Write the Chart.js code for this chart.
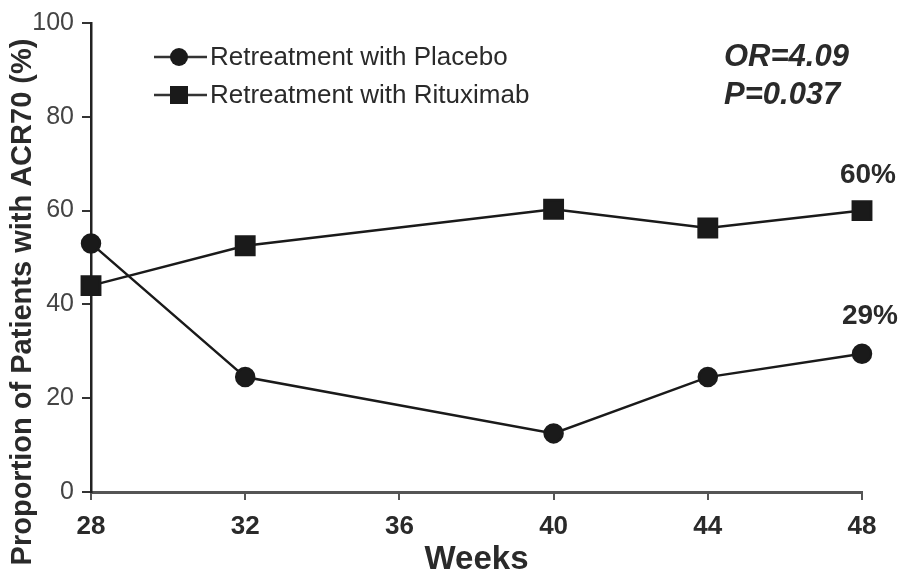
<!DOCTYPE html>
<html>
<head>
<meta charset="utf-8">
<script src="https://cdn.jsdelivr.net/npm/chart.js@4.4.1/dist/chart.umd.min.js"></script>
<style>
  body { margin: 0; background: #fff; }
  #wrap { width: 903px; height: 576px; }
</style>
</head>
<body>
<div id="wrap"><canvas id="myChart" width="903" height="576"></canvas></div>
<script>
// data
var weeks = [28, 32, 40, 44, 48];
var placebo = [53, 24.5, 12.5, 24.5, 29.5];
var rituximab = [44, 52.5, 60.3, 56.3, 60];
var xTicks = [28, 32, 36, 40, 44, 48];
var yTicks = [0, 20, 40, 60, 80, 100];
var seriesNames = ['Retreatment with Placebo', 'Retreatment with Rituximab'];
var endLabels = ['29%', '60%'];
var statsText = ['OR=4.09', 'P=0.037'];
var yTitle = 'Proportion of Patients with ACR70 (%)';

var FONT = '"Liberation Sans", Arial, sans-serif';
var ink = '#1a1a1a';
var textInk = '#2a2a2a';

function toPoints(ys) {
  return weeks.map(function(w, i) { return {x: w, y: ys[i]}; });
}

// legend, end labels, stats text and the y title
var extras = {
  id: 'extras',
  afterDraw: function(chart) {
    var c = chart.ctx;
    var xs = chart.scales.x, ys = chart.scales.y;
    c.save();
    // legend
    var rows = [57, 95];
    var styles = ['circle', 'rect'];
    for (var i = 0; i < 2; i++) {
      var y = rows[i];
      c.strokeStyle = '#333';
      c.lineWidth = 2.5;
      c.beginPath(); c.moveTo(154, y); c.lineTo(207, y); c.stroke();
      c.fillStyle = ink;
      if (styles[i] == 'circle') {
        c.beginPath(); c.arc(179, y, 9, 0, Math.PI * 2); c.fill();
      } else {
        c.fillRect(170, y - 9, 18, 18);
      }
      c.fillStyle = textInk;
      c.font = '26px ' + FONT;
      c.textAlign = 'left';
      c.textBaseline = 'middle';
      c.fillText(seriesNames[i], 210, y + 1);
    }
    // stats
    c.font = 'italic bold 31px ' + FONT;
    c.fillStyle = textInk;
    c.textBaseline = 'alphabetic';
    c.fillText(statsText[0], 724, 66);
    c.fillText(statsText[1], 724, 104);
    // end labels
    c.font = 'bold 28px ' + FONT;
    c.textAlign = 'center';
    var last = weeks.length - 1;
    var px = xs.getPixelForValue(weeks[last]);
    c.fillText(endLabels[0], px + 8, ys.getPixelForValue(placebo[last]) - 30);
    c.fillText(endLabels[1], px + 6, ys.getPixelForValue(rituximab[last]) - 28);
    // y title
    c.translate(31, 302);
    c.rotate(-Math.PI / 2);
    c.font = 'bold 29px ' + FONT;
    c.textAlign = 'center';
    c.textBaseline = 'alphabetic';
    c.fillText(yTitle, 0, 0);
    c.restore();
  }
};

var myChart = new Chart(document.getElementById('myChart').getContext('2d'), {
  type: 'line',
  data: {
    datasets: [
      {
        label: seriesNames[0],
        data: toPoints(placebo),
        borderColor: ink,
        backgroundColor: ink,
        borderWidth: 2.5,
        pointStyle: 'circle',
        pointRadius: 9,
        pointHoverRadius: 9,
        tension: 0,
        clip: false
      },
      {
        label: seriesNames[1],
        data: toPoints(rituximab),
        borderColor: ink,
        backgroundColor: ink,
        borderWidth: 2.5,
        pointStyle: 'rect',
        pointRadius: 13,
        pointHoverRadius: 13,
        tension: 0,
        clip: false
      }
    ]
  },
  options: {
    responsive: false,
    animation: false,
    events: [],
    layout: { padding: { top: 20, right: 41, left: 0, bottom: 0 } },
    plugins: {
      legend: { display: false },
      tooltip: { enabled: false }
    },
    scales: {
      x: {
        type: 'linear',
        min: 28, max: 48,
        afterBuildTicks: function(s) { s.ticks = xTicks.map(function(v) { return {value: v}; }); },
        afterFit: function(s) { s.height = 84; },
        border: { display: true, color: '#555', width: 3 },
        grid: { drawOnChartArea: false, drawTicks: true, tickLength: 8, color: '#555', lineWidth: 2 },
        ticks: { color: textInk, font: { family: FONT, size: 26, weight: 'bold' }, padding: 11, maxRotation: 0 },
        title: { display: true, text: 'Weeks', color: textInk, font: { family: FONT, size: 33, weight: 'bold', lineHeight: 1.0 }, padding: { top: 0, bottom: 0 } }
      },
      y: {
        min: 0, max: 100,
        afterBuildTicks: function(s) { s.ticks = yTicks.map(function(v) { return {value: v}; }); },
        afterFit: function(s) { s.width = 91; },
        border: { display: true, color: '#222', width: 2.5 },
        grid: { drawOnChartArea: false, drawTicks: true, tickLength: 9, color: '#333', lineWidth: 2 },
        ticks: { color: '#444', font: { family: FONT, size: 25 }, padding: 8 }
      }
    }
  },
  plugins: [extras]
});
</script>
</body>
</html>
